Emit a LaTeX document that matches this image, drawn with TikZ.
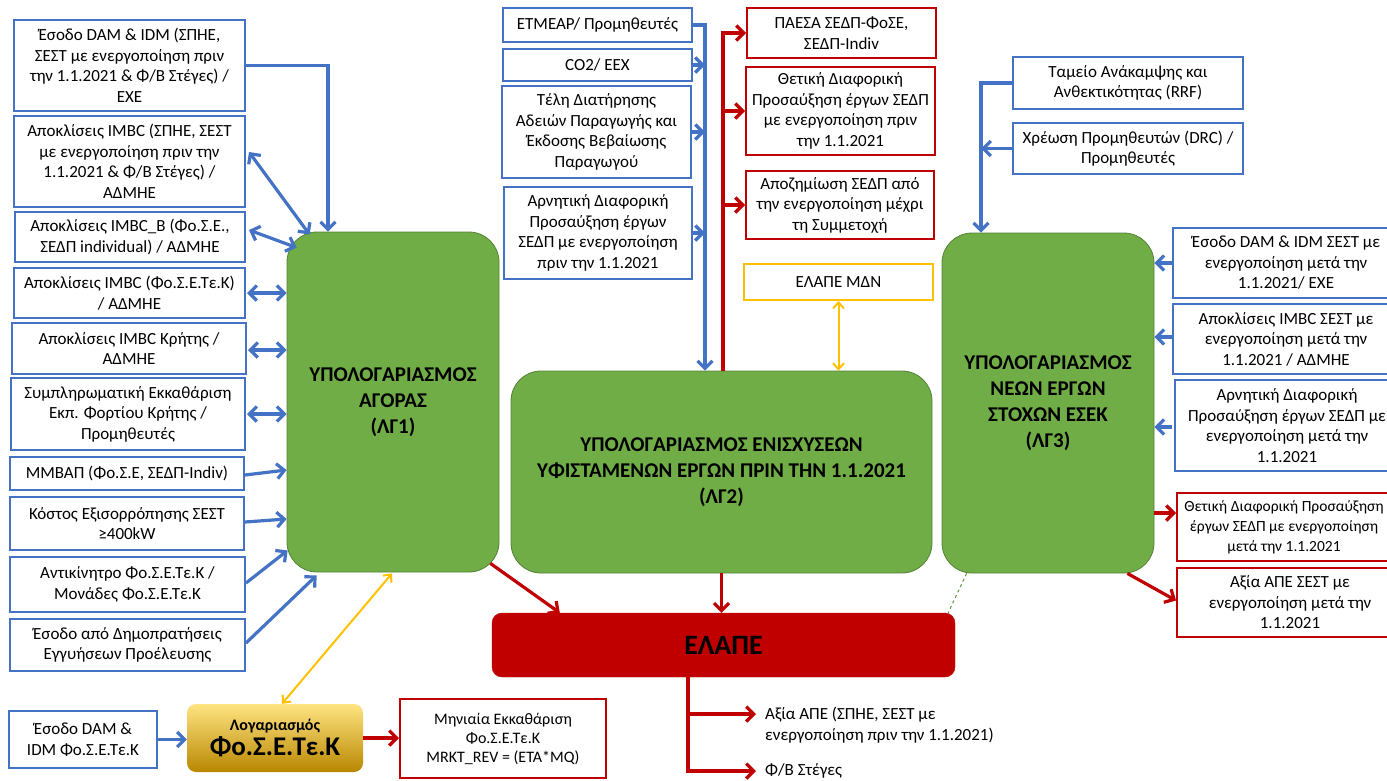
\documentclass[tikz,border=0pt]{standalone}
\usepackage{fontspec}
\setmainfont{Carlito}
\usetikzlibrary{arrows.meta,calc}
\definecolor{bblue}{RGB}{68,114,196}
\definecolor{rred}{RGB}{192,0,0}
\definecolor{ggreen}{RGB}{112,173,71}
\definecolor{ggreenD}{RGB}{84,130,53}
\definecolor{yyel}{RGB}{255,192,0}
\begin{document}
\begin{tikzpicture}[x=1pt,y=-1pt,
  txt/.style={font=\fontsize{17}{20.5}\selectfont, align=center, inner sep=0pt},
  bbox/.style={txt, draw=bblue, line width=2pt, fill=white},
  rbox/.style={txt, draw=rred, line width=2pt, fill=white},
  ybox/.style={txt, draw=yyel, line width=2pt, fill=white},
  gbox/.style={draw=ggreenD, line width=0.8pt, fill=ggreen, rounded corners=30pt, align=center, font=\fontsize{21}{26}\selectfont\bfseries, inner sep=0pt},
  tipb/.tip={Straight Barb[length=7.5pt,width=15pt]},
  tipy/.tip={Straight Barb[length=6pt,width=11pt]},
  barrow/.style={draw=bblue, line width=3.2pt, -tipb},
  bdarrow/.style={draw=bblue, line width=3.2pt, tipb-tipb},
  rarrow/.style={draw=rred, line width=3.2pt, -tipb},
  ydarrow/.style={draw=yyel, line width=2pt, tipy-tipy},
]
\useasboundingbox (0,0) rectangle (1387,780);

% ---------- left column ----------
\node[bbox, minimum width=231pt, minimum height=91pt] (L1) at (129.5,65.5) {Έσοδο DAM \& IDM (ΣΠΗΕ,\\ΣΕΣΤ με ενεργοποίηση πριν\\την 1.1.2021 \& Φ/Β Στέγες) /\\ΕΧΕ};
\node[bbox, minimum width=231pt, minimum height=91pt] (L2) at (129.5,161.5) {Αποκλίσεις IMBC (ΣΠΗΕ, ΣΕΣΤ\\με ενεργοποίηση πριν την\\1.1.2021 \& Φ/Β Στέγες) /\\ΑΔΜΗΕ};
\node[bbox, minimum width=230pt, minimum height=50pt] (L3) at (130,237) {Αποκλίσεις IMBC\_B (Φο.Σ.Ε.,\\ΣΕΔΠ individual) / ΑΔΜΗΕ};
\node[bbox, minimum width=231pt, minimum height=50pt] (L4) at (129.5,293) {Αποκλίσεις IMBC (Φο.Σ.Ε.Τε.Κ)\\/ ΑΔΜΗΕ};
\node[bbox, minimum width=234pt, minimum height=51pt] (L5) at (129,348.5) {Αποκλίσεις IMBC Κρήτης /\\ΑΔΜΗΕ};
\node[bbox, minimum width=234pt, minimum height=72pt] (L6) at (128,414) {Συμπληρωματική Εκκαθάριση\\Εκπ. Φορτίου Κρήτης /\\Προμηθευτές};
\node[bbox, minimum width=234pt, minimum height=33pt] (L7) at (127,473.5) {ΜΜΒΑΠ (Φο.Σ.Ε, ΣΕΔΠ-Indiv)};
\node[bbox, minimum width=234pt, minimum height=53pt] (L8) at (127,523.5) {Κόστος Εξισορρόπησης ΣΕΣΤ\\≥400kW};
\node[bbox, minimum width=235pt, minimum height=55pt] (L9) at (127.5,584.5) {Αντικίνητρο Φο.Σ.Ε.Τε.Κ /\\Μονάδες Φο.Σ.Ε.Τε.Κ};
\node[bbox, minimum width=235pt, minimum height=52pt] (L10) at (127.5,645) {Έσοδο από Δημοπρατήσεις\\Εγγυήσεων Προέλευσης};
\node[bbox, minimum width=148pt, minimum height=57pt] (L11) at (83,739.5) {Έσοδο DAM \&\\IDM Φο.Σ.Ε.Τε.Κ};

% ---------- green calculation boxes ----------
\node[gbox, minimum width=212pt, minimum height=340pt] (G1) at (393,402) {ΥΠΟΛΟΓΑΡΙΑΣΜΟΣ\\ΑΓΟΡΑΣ\\(ΛΓ1)};
\node[gbox, minimum width=421pt, minimum height=202pt] (G2) at (721.5,472) {ΥΠΟΛΟΓΑΡΙΑΣΜΟΣ ΕΝΙΣΧΥΣΕΩΝ\\ΥΦΙΣΤΑΜΕΝΩΝ ΕΡΓΩΝ ΠΡΙΝ ΤΗΝ 1.1.2021\\(ΛΓ2)};
\node[gbox, minimum width=212pt, minimum height=340pt] (G3) at (1048,403) {ΥΠΟΛΟΓΑΡΙΑΣΜΟΣ\\ΝΕΩΝ ΕΡΓΩΝ\\ΣΤΟΧΩΝ ΕΣΕΚ\\(ΛΓ3)};

% ---------- ELAPE ----------
\node[draw=rred, fill=rred, rounded corners=10pt, minimum width=463pt, minimum height=64pt, inner sep=0pt, font=\fontsize{28}{32}\selectfont\bfseries] (E) at (723.5,645) {ΕΛΑΠΕ};

% ---------- account box ----------
\node[rounded corners=9pt, top color={rgb,255:red,255;green,228;blue,130}, middle color={rgb,255:red,255;green,192;blue,0}, bottom color={rgb,255:red,185;green,135;blue,0}, minimum width=176pt, minimum height=68pt, inner sep=0pt, align=center] (LG) at (275,738) {{\fontsize{16}{17}\selectfont\bfseries Λογαριασμός}\\[2pt]{\fontsize{27}{30}\selectfont\bfseries Φο.Σ.Ε.Τε.Κ}};
\node[rbox, font=\fontsize{16}{19}\selectfont, minimum width=206pt, minimum height=79pt] (M) at (503,738.5) {Μηνιαία Εκκαθάριση\\Φο.Σ.Ε.Τε.Κ\\MRKT\_REV = (ΕΤΑ*MQ)};

% ---------- top middle inputs ----------
\node[bbox, minimum width=189pt, minimum height=34pt] (T1) at (597.5,25) {ΕΤΜΕΑΡ/ Προμηθευτές};
\node[bbox, minimum width=189pt, minimum height=32pt] (T2) at (597.5,65) {CO2/ EEX};
\node[bbox, minimum width=189pt, minimum height=92pt] (T3) at (596.5,132) {Τέλη Διατήρησης\\Αδειών Παραγωγής και\\Έκδοσης Βεβαίωσης\\Παραγωγού};
\node[bbox, minimum width=188pt, minimum height=92pt] (T4) at (598,233) {Αρνητική Διαφορική\\Προσαύξηση έργων\\ΣΕΔΠ με ενεργοποίηση\\πριν την 1.1.2021};

% ---------- top middle outputs ----------
\node[rbox, minimum width=189pt, minimum height=50pt] (R1) at (841.5,33) {ΠΑΕΣΑ ΣΕΔΠ-ΦοΣΕ,\\ΣΕΔΠ-Indiv};
\node[rbox, minimum width=189pt, minimum height=88pt] (R2) at (840.5,111) {Θετική Διαφορική\\Προσαύξηση έργων ΣΕΔΠ\\με ενεργοποίηση πριν\\την 1.1.2021};
\node[rbox, minimum width=188pt, minimum height=68pt] (R3) at (840,205) {Αποζημίωση ΣΕΔΠ από\\την ενεργοποίηση μέχρι\\τη Συμμετοχή};
\node[ybox, minimum width=189pt, minimum height=36pt] (Y1) at (838.5,282) {ΕΛΑΠΕ ΜΔΝ};

% ---------- right column ----------
\node[bbox, minimum width=230pt, minimum height=52pt] (Q1) at (1128,83) {Ταμείο Ανάκαμψης και\\Ανθεκτικότητας (RRF)};
\node[bbox, minimum width=230pt, minimum height=51pt] (Q2) at (1128,148.5) {Χρέωση Προμηθευτών (DRC) /\\Προμηθευτές};
\node[bbox, minimum width=226pt, minimum height=70pt] (S1) at (1286,263) {Έσοδο DAM \& IDM ΣΕΣΤ με\\ενεργοποίηση μετά την\\1.1.2021/ ΕΧΕ};
\node[bbox, minimum width=226pt, minimum height=70pt] (S2) at (1286,339) {Αποκλίσεις IMBC ΣΕΣΤ με\\ενεργοποίηση μετά την\\1.1.2021 / ΑΔΜΗΕ};
\node[bbox, minimum width=224pt, minimum height=91pt] (S3) at (1287,425.5) {Αρνητική Διαφορική\\Προσαύξηση έργων ΣΕΔΠ με\\ενεργοποίηση μετά την\\1.1.2021};
\node[rbox, font=\fontsize{15.5}{20}\selectfont, minimum width=214pt, minimum height=68pt] (S4) at (1284,527) {Θετική Διαφορική Προσαύξηση\\έργων ΣΕΔΠ με ενεργοποίηση\\μετά την 1.1.2021};
\node[rbox, minimum width=226pt, minimum height=69pt] (S5) at (1290,602.5) {Αξία ΑΠΕ ΣΕΣΤ με\\ενεργοποίηση μετά την\\1.1.2021};

% ---------- bottom outputs (plain text) ----------
\node[txt, align=left, anchor=west] (A1) at (765,725) {Αξία ΑΠΕ (ΣΠΗΕ, ΣΕΣΤ με\\ενεργοποίηση πριν την 1.1.2021)};
\node[txt, align=left, anchor=west] (F1) at (765,771) {Φ/Β Στέγες};

% ---------- coordinates for bus lines ----------
\coordinate (c1) at (328,0);
\coordinate (bx) at (705,0);
\coordinate (rx) at (723,0);
\coordinate (qx) at (981,0);
\coordinate (ex) at (688,0);

% ---------- left connectors ----------
\draw[barrow] (L1.east) -| (G1.north -| c1);
\draw[bdarrow] ($(L2.east)+(3,-9.5)$) -- ($(G1.north west)+(23,3)$);
\draw[bdarrow] ($(L3.east)+(3,-7)$) -- ($(G1.north west)+(10,16)$);
\draw[bdarrow] ($(L4.east)+(1,0)$) -- (L4.east -| G1.west);
\draw[bdarrow] ($(L5.east)+(1,1.5)$) -- ($(L5.east -| G1.west)+(0,1.5)$);
\draw[bdarrow] ($(L6.east)+(1,0)$) -- (L6.east -| G1.west);
\draw[barrow] ($(L7.east)+(0,1.5)$) -- ($(L7.east -| G1.west)+(0,-3.5)$);
\draw[barrow] ($(L8.east)+(0,-1.5)$) -- ($(L8.east -| G1.west)+(0,-4.5)$);
\draw[barrow] ($(L9.east)+(0,-1.5)$) -- ($(G1.south west)+(1,-22)$);
\draw[barrow] ($(L10.east)+(0,-2)$) -- ($(G1.south west)+(30,3)$);
\draw[barrow] (L11.east) -- (L11.east -| LG.west);
\draw[rarrow] (LG.east) -- (LG.east -| M.west);
\draw[ydarrow] ($(G1.south)+(-1,1)$) -- ($(LG.north)+(7,0)$);

% ---------- top middle connectors ----------
\draw[barrow] (T1.east) -| (G2.north -| bx);
\draw[barrow] (T2.east) -- (T2.east -| bx);
\draw[barrow] (T3.east) -- (T3.east -| bx);
\draw[barrow] (T4.east) -- (T4.east -| bx);
\draw[rarrow] (G2.north -| rx) |- (R1.west);
\draw[rarrow] (rx |- R2.west) -- (R2.west);
\draw[rarrow] (rx |- R3.west) -- (R3.west);
\draw[ydarrow] (Y1.south) -- (Y1.south |- G2.north);

% ---------- right connectors ----------
\draw[barrow] (Q1.west) -| (G3.north -| qx);
\draw[barrow] (Q2.west) -- (Q2.west -| qx);
\draw[barrow] (S1.west) -- (S1.west -| G3.east);
\draw[barrow] ($(S2.west)+(0,-2)$) -- ($(S2.west -| G3.east)+(0,-2)$);
\draw[barrow] ($(S3.west)+(-2,1.5)$) -- ($(S3.west -| G3.east)+(0,1.5)$);
\draw[rarrow] ($(S4.west -| G3.east)+(0,-14)$) -- ($(S4.west)+(0,-14)$);
\draw[rarrow] ($(G3.south east)+(-27,0)$) -- ($(S5.west)+(0,-2)$);
\draw[ggreen!85!black, dashed, line width=1pt] ($(G3.south west)+(25,0)$) -- ($(E.north east)+(-7,0)$);

% ---------- into and out of ELAPE ----------
\draw[rarrow] ($(G1.south east)+(-9,-9)$) -- ($(E.north west)+(68,0)$);
\draw[rarrow] (G2.south) -- (G2.south |- E.north);
\draw[rarrow] (E.south -| ex) |- ($(F1.west)+(-9,0)$);
\draw[rarrow] ($(A1.west -| ex)+(0,-11)$) -- ($(A1.west)+(-9,-11)$);
\end{tikzpicture}
\end{document}
